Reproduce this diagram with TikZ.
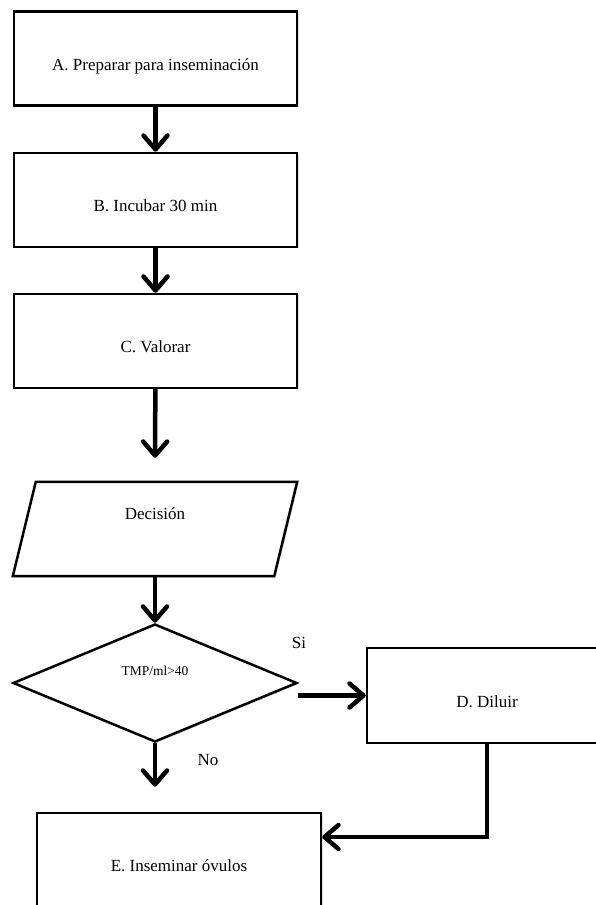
\documentclass[tikz,border=0pt]{standalone}
\usepackage{fontspec}
\setmainfont{Liberation Serif}
\usetikzlibrary{shapes.geometric,arrows.meta,shadows}

\begin{document}
\begin{tikzpicture}[x=1pt, y=1pt,
    sombra/.style={drop shadow={shadow xshift=1.5pt, shadow yshift=-1.5pt, opacity=0.25}},
    caja/.style={draw, line width=2.5pt, fill=white, sombra, inner sep=0pt,
        minimum width=283pt, minimum height=94pt, text height=28pt, text depth=4pt,
        font=\fontsize{17}{20}\selectfont},
    flecha/.style={line width=4.5pt, -{Straight Barb[length=14pt, width=24pt, line width=4.5pt, round]}},
    etiqueta/.style={font=\fontsize{17}{20}\selectfont}]
    \useasboundingbox (0,0) rectangle (595,905);

    % pasos del proceso
    \node[caja] (A) at (155.5,846.5) {A. Preparar para inseminación};
    \node[caja] (B) at (155.5,705) {B. Incubar 30 min};
    \node[caja] (C) at (155.5,564) {C. Valorar};

    % paralelogramo de decision
    \node[minimum width=261pt, minimum height=94pt, inner sep=0pt,
        text height=12pt, text depth=31pt, font=\fontsize{17}{20}\selectfont] (dec) at (155,376) {};
    \draw[line width=2.5pt, fill=white, sombra] ([xshift=11.5pt]dec.north west) -- ([xshift=11.5pt]dec.north east)
        -- ([xshift=-11.5pt]dec.south east) -- ([xshift=-11.5pt]dec.south west) -- cycle;
    \node[text height=12pt, text depth=31pt, inner sep=0pt, font=\fontsize{17}{20}\selectfont] at (dec) {Decisión};

    \node[draw, diamond, line width=2.5pt, fill=white, sombra, inner sep=0pt,
        minimum width=284pt, minimum height=118pt, text height=10pt, text depth=25pt,
        font=\fontsize{13.5}{16}\selectfont] (dia) at (155,222) {TMP/ml>40};

    \node[caja, minimum width=240pt, minimum height=95pt] (D) at (487,209.5) {D. Diluir};
    \node[caja, minimum width=284pt] (E) at (179,45) {E. Inseminar óvulos};

    \node[etiqueta] (si) at (299,262) {Si};
    \node[etiqueta] (no) at (208,145) {No};

    % conexiones
    \draw[flecha] (A) -- (B);
    \draw[flecha] (B) -- (C);
    \draw[flecha, shorten >=24pt] (C) -- (dec.north);
    \draw[flecha] (dec.south) -- (dia.north);
    \draw[flecha] (dia.east |- D.west) -- (D.west);
    \draw[flecha, shorten >=25pt] (dia.south) -- (E.north -| dia.south);
    \draw[flecha] (D.south) |- ([yshift=23pt]E.east);
\end{tikzpicture}
\end{document}
